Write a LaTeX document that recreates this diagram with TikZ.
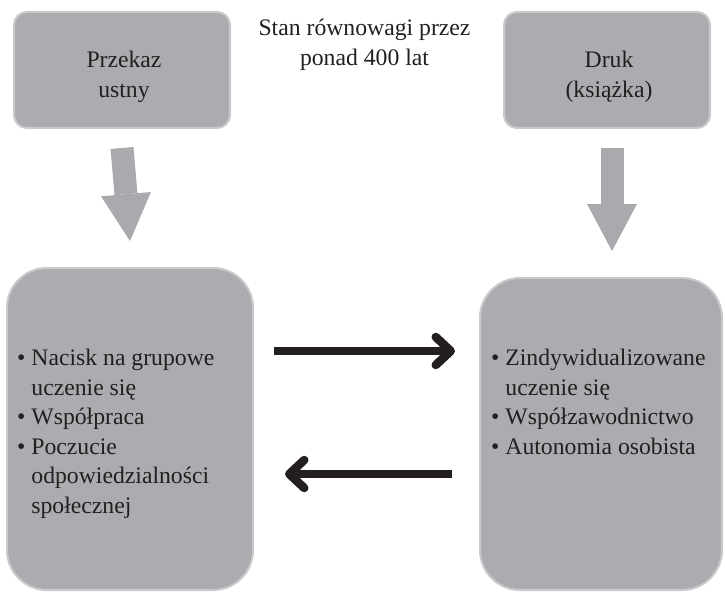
\documentclass[tikz,border=0pt]{standalone}
\usepackage{fontspec}
\setmainfont{Liberation Serif}
\usetikzlibrary{arrows.meta}
\definecolor{boxgray}{HTML}{ABACAF}
\definecolor{boxedge}{HTML}{C9CACC}
\definecolor{arrgray}{HTML}{A9AAAD}
\definecolor{ink}{HTML}{231F20}
\begin{document}
\begin{tikzpicture}[x=1pt,y=-1pt,
  txt/.style={font=\fontsize{23.7}{29.5}\selectfont, text=ink, inner sep=0pt},
  topbox/.style={fill=boxgray, draw=boxedge, line width=2pt, rounded corners=13pt, inner sep=0pt},
  botbox/.style={fill=boxgray, draw=boxedge, line width=2pt, rounded corners=40pt, inner sep=0pt},
  garrow/.style={draw=arrgray, line width=23pt, -{Triangle[width=50pt,length=47pt,line width=0pt]}},
  barrow/.style={draw=ink, line width=8.5pt, -{Straight Barb[length=15pt,width=28pt,round]}},
  ]
\useasboundingbox (0,0) rectangle (725,596);
\fill[white] (0,0) rectangle (725,596);

\node[topbox, minimum width=216pt, minimum height=116pt] (pl) at (122,70) {};
\node[topbox, minimum width=206pt, minimum height=116pt] (pr) at (607,70) {};
\node[txt, align=center] (pll) at (124,77) {Przekaz\\ustny};
\node[txt, align=center] (prl) at (609,77) {Druk\\(książka)};
\node[txt, align=center, font=\fontsize{23.7}{30}\selectfont] (mid) at (364.5,45) {Stan równowagi przez\\ponad 400 lat};

\node[botbox, minimum width=246pt, minimum height=322pt] (bl) at (130,429) {};
\node[botbox, minimum width=242pt, minimum height=312pt] (br) at (601,434) {};

\node[txt, align=left, anchor=north west] (tl) at (17,349) {•\ Nacisk na grupowe\\\hphantom{•\ }uczenie się\\•\ Współpraca\\•\ Poczucie\\\hphantom{•\ }odpowiedzialności\\\hphantom{•\ }społecznej};
\node[txt, align=left, anchor=north west] (tr) at (491,349) {•\ Zindywidualizowane\\\hphantom{•\ }uczenie się\\•\ Współzawodnictwo\\•\ Autonomia osobista};

\draw[garrow] ([yshift=-19pt]pl.south) -- ([yshift=26pt]bl.north);
\draw[garrow] ([yshift=-19pt,xshift=5pt]pr.south) -- ([yshift=26pt,xshift=11pt]br.north);

\draw[barrow, shorten <=20pt, shorten >=24pt] (bl.east |- 0,351) -- (br.west |- 0,351);
\draw[barrow, shorten <=27pt, shorten >=31pt] (br.west |- 0,474) -- (bl.east |- 0,474);
\end{tikzpicture}
\end{document}
